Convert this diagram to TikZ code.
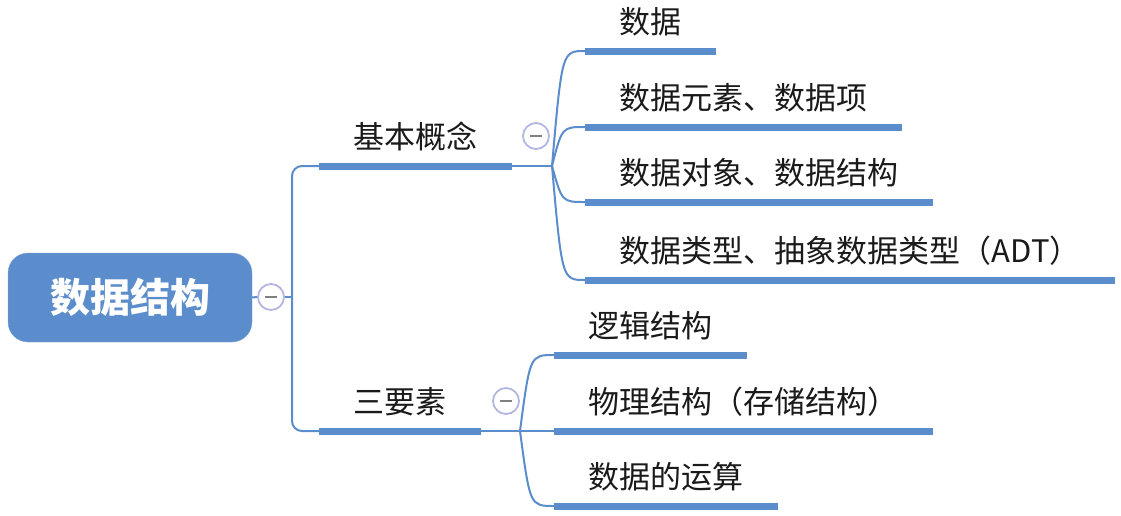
\documentclass[tikz,border=0pt]{standalone}
\usepackage{fontspec}
\setmainfont{Noto Sans CJK SC}
\usepackage{tikz}
\usetikzlibrary{positioning,calc}
\definecolor{topic}{HTML}{5B8CCB}
\definecolor{ring}{HTML}{B4B6E2}
\definecolor{ink}{HTML}{1A1A1A}
\tikzset{
  rootbox/.style={draw=topic!75!white,fill=topic,rounded corners=20pt,text=white,font=\fontsize{40}{44}\selectfont\bfseries,minimum width=244pt,minimum height=89pt,inner sep=0pt},
  topicbox/.style={anchor=south west,inner xsep=34.5pt,inner ysep=13pt,text height=27pt,text depth=4pt,text=ink,font=\fontsize{31}{34}\selectfont},
  bar/.style={topic,line width=7pt},
  link/.style={topic,line width=2pt},
  fold/.style={circle,draw=ring,fill=white,line width=1.8pt,minimum size=26pt,inner sep=0pt,
    path picture={\draw[gray,line width=1.8pt] ([xshift=-6pt]path picture bounding box.center) -- ([xshift=6pt]path picture bounding box.center);}},
}

\begin{document}
\begin{tikzpicture}[x=1pt,y=-1pt]
\useasboundingbox (0,0) rectangle (1121,515);
\node[rootbox] (root) at (130,297.5) {数据结构};
\node[fold] (f0) at (271,297) {};
\coordinate (t) at (292,297);
\node[topicbox] (b1) at (319,166) {基本概念};
\node[topicbox] (b2) at (319,431) {三要素};
\coordinate (j1) at (552,166);
\coordinate (j2) at (520,431);
\node[fold] (f1) at (536,136) {};
\node[fold] (f2) at (506,401) {};
\node[topicbox] (c1) at (585,51) {数据};
\node[topicbox] (c2) at (585,127) {数据元素、数据项};
\node[topicbox] (c3) at (585,202) {数据对象、数据结构};
\node[topicbox] (c4) at (585,280) {数据类型、抽象数据类型（ADT）};
\node[topicbox] (c5) at (554,355) {逻辑结构};
\node[topicbox] (c6) at (554,431) {物理结构（存储结构）};
\node[topicbox] (c7) at (554,506) {数据的运算};
\foreach \n in {b1,b2,c1,c2,c3,c4,c5,c6,c7}{\draw[bar] (\n.south west) -- (\n.south east);}
\draw[link] (root.east) -- (f0.west);
\draw[link] (f0.east) -- (t);
\draw[link,rounded corners=10pt] (b1.south west) -| (t) |- (b2.south west);
\draw[link] (b1.south east) -- (j1);
\draw[link] (b2.south east) -- (j2);
\foreach \n in {c1,c2,c3,c4}{\draw[link] (j1) .. controls ($(j1 |- \n.south west)+(10,0)$) .. (\n.south west);}
\foreach \n in {c5,c6,c7}{\draw[link] (j2) .. controls ($(j2 |- \n.south west)+(10,0)$) .. (\n.south west);}
\end{tikzpicture}
\end{document}
